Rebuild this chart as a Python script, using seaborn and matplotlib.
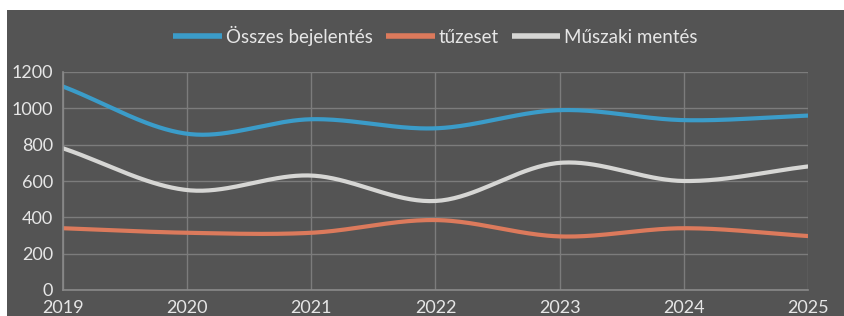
import numpy as np
import pandas as pd
import matplotlib
matplotlib.use("Agg")
import matplotlib.pyplot as plt
import seaborn as sns
from matplotlib.patches import Rectangle

years = [2019, 2020, 2021, 2022, 2023, 2024, 2025]
osszes = [1120, 860, 940, 890, 990, 935, 960]
tuzeset = [340, 315, 315, 385, 295, 340, 297]
muszaki = [780, 550, 630, 490, 700, 600, 680]

series_names = ["Összes bejelentés", "tűzeset", "Műszaki mentés"]
colors = ["#3b9cc9", "#dc7a5c", "#d6d6d4"]


def smooth(x, y, n=40):
    # catmull-rom style smoothing, like the spreadsheet "smoothed line"
    x = np.asarray(x, float)
    y = np.asarray(y, float)
    px = np.concatenate([[2 * x[0] - x[1]], x, [2 * x[-1] - x[-2]]])
    py = np.concatenate([[2 * y[0] - y[1]], y, [2 * y[-1] - y[-2]]])
    xs, ys = [], []
    t = np.linspace(0, 1, n, endpoint=False)
    for i in range(1, len(px) - 2):
        p0, p1, p2, p3 = py[i - 1], py[i], py[i + 1], py[i + 2]
        q0, q1, q2, q3 = px[i - 1], px[i], px[i + 1], px[i + 2]
        ys.append(0.5 * (2 * p1 + (-p0 + p2) * t + (2 * p0 - 5 * p1 + 4 * p2 - p3) * t**2 + (-p0 + 3 * p1 - 3 * p2 + p3) * t**3))
        xs.append(0.5 * (2 * q1 + (-q0 + q2) * t + (2 * q0 - 5 * q1 + 4 * q2 - q3) * t**2 + (-q0 + 3 * q1 - 3 * q2 + q3) * t**3))
    xs.append([x[-1]])
    ys.append([y[-1]])
    return np.concatenate(xs), np.concatenate(ys)


frames = []
for name, vals in zip(series_names, [osszes, tuzeset, muszaki]):
    sx, sy = smooth(years, vals)
    frames.append(pd.DataFrame({"év": sx, "érték": sy, "sorozat": name}))
df = pd.concat(frames, ignore_index=True)

sns.set_style("dark")
plt.rcParams["font.family"] = ["Lato", "DejaVu Sans"]

bg = "#545454"
fig = plt.figure(figsize=(8.44, 3.16), dpi=100)
fig.patch.set_facecolor("white")
fig.patches.append(Rectangle((7 / 844, 0), 1, 306 / 316, transform=fig.transFigure,
                             facecolor=bg, edgecolor="none", zorder=-10))

ax = fig.add_axes([63 / 844, 26 / 316, (808 - 63) / 844, (290 - 72) / 316])
ax.set_facecolor(bg)

sns.lineplot(data=df, x="év", y="érték", hue="sorozat", palette=colors,
             hue_order=series_names, sort=False, estimator=None, lw=3.0, ax=ax)

ax.set_xlim(2019, 2025)
ax.set_ylim(0, 1200)
ax.set_xticks(years)
ax.set_yticks(range(0, 1201, 200))
ax.grid(True, color="#7c7c7c", lw=1)
for s in ["top", "right"]:
    ax.spines[s].set_visible(False)
for s in ["left", "bottom"]:
    ax.spines[s].set_visible(True)
    ax.spines[s].set_color("#8a8a8a")
    ax.spines[s].set_linewidth(1.2)
ax.tick_params(axis="both", colors="#e6e6e6", labelsize=13, length=0)
ax.tick_params(axis="y", pad=7)
ax.tick_params(axis="x", pad=7.5)
ax.set_xlabel("")
ax.set_ylabel("")

leg = ax.legend(loc="upper center", bbox_to_anchor=(0.5, 1.29), ncol=3, frameon=False,
                fontsize=13.5, handlelength=2.6, columnspacing=0.7, handletextpad=0.2,
                labelcolor="#e6e6e6")
for line in leg.get_lines():
    line.set_linewidth(4)
    line.set_solid_capstyle("butt")

fig.savefig("out.png", dpi=100, facecolor=fig.get_facecolor())
